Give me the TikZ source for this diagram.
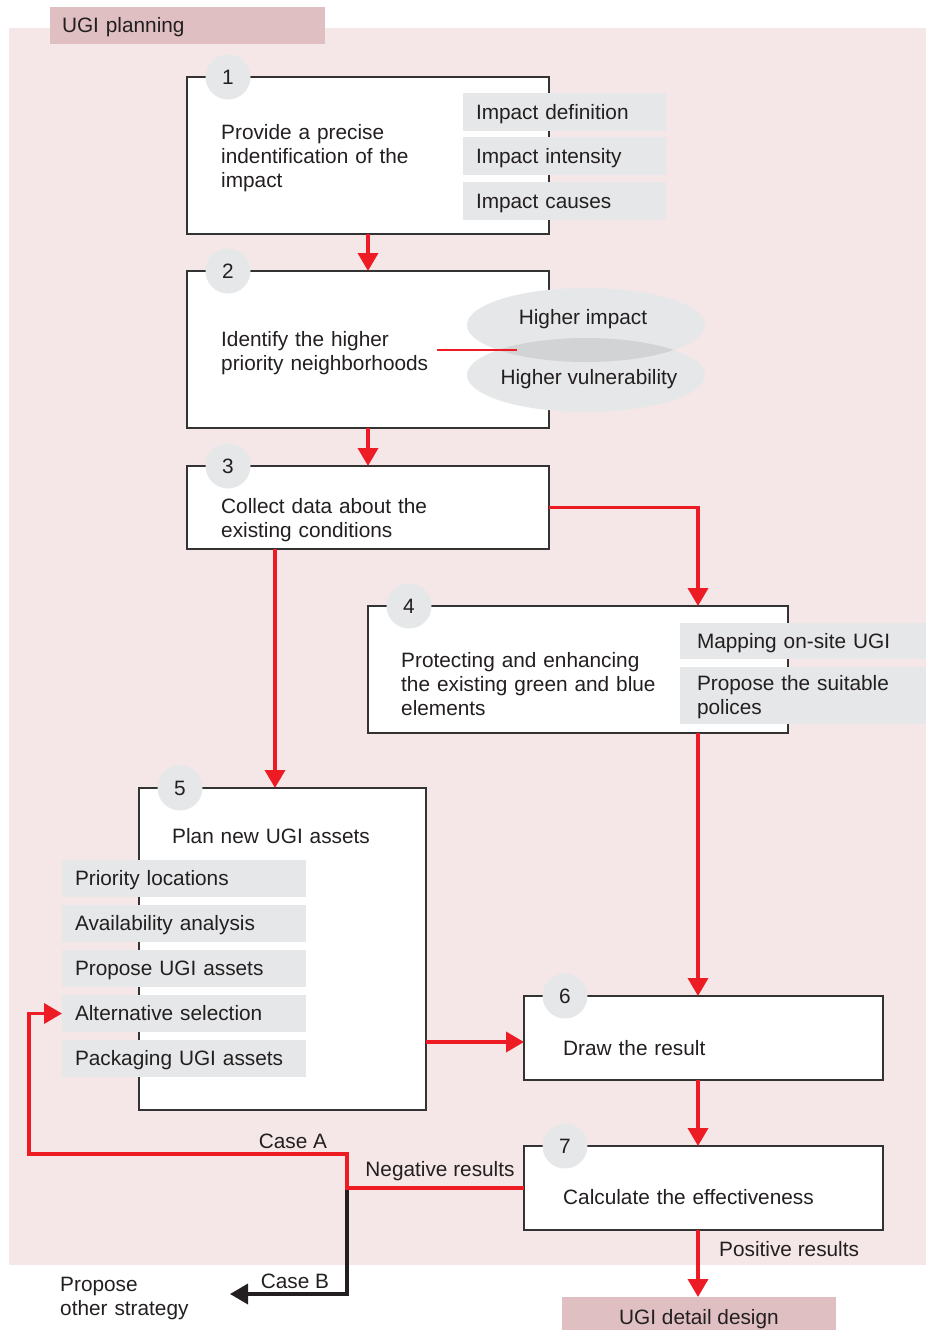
\documentclass[tikz,border=0pt]{standalone}
\usepackage{fontspec}
\setmainfont{Liberation Sans}
\usetikzlibrary{arrows.meta,shapes.geometric}
\definecolor{bgpink}{RGB}{245,231,231}
\definecolor{tabpink}{RGB}{223,191,193}
\definecolor{lgray}{RGB}{230,231,232}
\definecolor{dgray}{RGB}{209,211,212}
\definecolor{ugred}{RGB}{237,28,36}
\definecolor{txt}{RGB}{35,31,32}
\definecolor{boxline}{RGB}{51,51,51}
\begin{document}
\begin{tikzpicture}[x=1pt,y=-1pt,
  font=\fontsize{20.8}{24}\selectfont, text=txt,
  stepbox/.style={draw=boxline, line width=1.6pt, fill=white, rectangle, inner sep=0pt, outer sep=0pt},
  num/.style={circle, fill=lgray, minimum size=45pt, inner sep=0pt},
  lab/.style={fill=lgray, inner xsep=13pt, inner ysep=0pt, text height=14pt, text depth=0pt, align=left, outer sep=0pt},
  tab/.style={fill=tabpink, inner ysep=0pt, outer sep=0pt},
  body/.style={anchor=base west, align=left, inner sep=0pt, text width=300pt},
  plain/.style={inner sep=0pt},
  redarrow/.style={draw=ugred, line width=3.6pt, -{Triangle[length=18pt,width=20pt]}},
  blackarrow/.style={draw=txt, line width=3.6pt, -{Triangle[length=18pt,width=20pt]}}
]
\useasboundingbox (0,0) rectangle (926,1330);
% background
\fill[bgpink] (9,28) rectangle (926,1265);
\node[tab, text width=251pt, inner xsep=12pt, minimum height=37pt, text height=14pt, text depth=0pt, align=left] (tabtop) at (187.5,25.5) {UGI planning};

% boxes
\node[stepbox, minimum width=362pt, minimum height=157pt] (b1) at (368,155.5) {};
\node[stepbox, minimum width=362pt, minimum height=157pt] (b2) at (368,349.5) {};
\node[stepbox, minimum width=362pt, minimum height=83pt] (b3) at (368,507.5) {};
\node[stepbox, minimum width=420pt, minimum height=127pt] (b4) at (578,669.5) {};
\node[stepbox, minimum width=287pt, minimum height=322pt] (b5) at (282.5,949) {};
\node[stepbox, minimum width=359pt, minimum height=84pt] (b6) at (703.5,1038) {};
\node[stepbox, minimum width=359pt, minimum height=84pt] (b7) at (703.5,1188) {};

% number circles
\node[num] (n1) at (228,77) {1};
\node[num] (n2) at (228,271) {2};
\node[num] (n3) at (228,466) {3};
\node[num] (n4) at (409,606) {4};
\node[num] (n5) at (180,788) {5};
\node[num] (n6) at (565,996) {6};
\node[num] (n7) at (565,1146) {7};

% body texts
\node[body] (t1) at (221,139) {Provide a precise\\indentification of the\\impact};
\node[body] (t2) at (221,346) {Identify the higher\\priority neighborhoods};
\node[body] (t3) at (221,513) {Collect data about the\\existing conditions};
\node[body] (t4) at (401,667) {Protecting and enhancing\\the existing green and blue\\elements};
\node[body] (t5) at (172,843) {Plan new UGI assets};
\node[body] (t6) at (563,1055) {Draw the result};
\node[body] (t7) at (563,1204) {Calculate the effectiveness};

% labels box 1
\node[lab, text width=177pt, minimum height=38pt] (a1) at (564.5,112) {Impact definition};
\node[lab, text width=177pt, minimum height=38pt] (a2) at (564.5,156) {Impact intensity};
\node[lab, text width=177pt, minimum height=38pt] (a3) at (564.5,201) {Impact causes};

% ellipses box 2
\node[ellipse, fill=lgray, minimum width=238pt, minimum height=74pt, inner sep=0pt] (e1) at (586,325) {};
\node[ellipse, fill=lgray, minimum width=238pt, minimum height=74pt, inner sep=0pt] (e2) at (586,375) {};
\begin{scope}
  \clip (586,325) ellipse [x radius=119pt, y radius=37pt];
  \fill[dgray] (586,375) ellipse [x radius=119pt, y radius=37pt];
\end{scope}
\node[plain, anchor=base] (e1t) at (583,324) {Higher impact};
\node[plain, anchor=base] (e2t) at (589,384) {Higher vulnerability};
\coordinate (lk1) at (437,350);
\coordinate (lk2) at (517,350);
\draw[ugred, line width=1.2pt] (lk1) -- (lk2);

% labels box 4
\node[lab, inner xsep=17pt, text width=212pt, minimum height=36pt] (c1) at (803,641) {Mapping on-site UGI};
\node[lab, inner xsep=17pt, text width=212pt, minimum height=57pt, text depth=24pt] (c2) at (803,695.5) {Propose the suitable\\polices};

% labels box 5
\node[lab, text width=218pt, minimum height=37pt] (l1) at (184,878.5) {Priority locations};
\node[lab, text width=218pt, minimum height=37pt] (l2) at (184,923.5) {Availability analysis};
\node[lab, text width=218pt, minimum height=37pt] (l3) at (184,968.5) {Propose UGI assets};
\node[lab, text width=218pt, minimum height=37pt] (l4) at (184,1013.5) {Alternative selection};
\node[lab, text width=218pt, minimum height=37pt] (l5) at (184,1058.5) {Packaging UGI assets};

% detail design tab
\node[tab, minimum width=274pt, minimum height=33pt, text height=21pt, text depth=0pt] (det) at (699,1313.5) {UGI detail design};

% connector labels
\node[plain, anchor=base west] (pos) at (719,1256) {Positive results};
\node[plain, anchor=base] (casea) at (293,1148) {Case A};
\node[plain, anchor=base] (neg) at (440,1176) {Negative results};
\node[plain, anchor=base] (caseb) at (295,1288) {Case B};
\node[body] (other) at (60,1291) {Propose\\other strategy};

% coordinates
\coordinate (xr) at (698,0);
\coordinate (x5) at (275,0);
\coordinate (yrow) at (0,1042);
\coordinate (c4) at (698,606);
\coordinate (split) at (347,1188);
\coordinate (cornA) at (29,1154);
\coordinate (cb) at (230,1294);

% connectors
\draw[redarrow] (b1.south) -- (b2.north);
\draw[redarrow] (b2.south) -- (b3.north);
\draw[redarrow] (b3.east) -| (c4);
\draw[redarrow] (b3.south -| x5) -- (b5.north -| x5);
\draw[redarrow] (b4.south -| xr) -- (b6.north -| xr);
\draw[redarrow] (b5.east |- yrow) -- (b6.west |- yrow);
\draw[redarrow] (b6.south -| xr) -- (b7.north -| xr);
\draw[redarrow] (b7.south -| xr) -- (det.north -| xr);
\draw[blackarrow] (split) |- (cb);
\draw[redarrow] (b7.west) -- (split) |- (cornA) |- (l4.west);
\end{tikzpicture}
\end{document}
